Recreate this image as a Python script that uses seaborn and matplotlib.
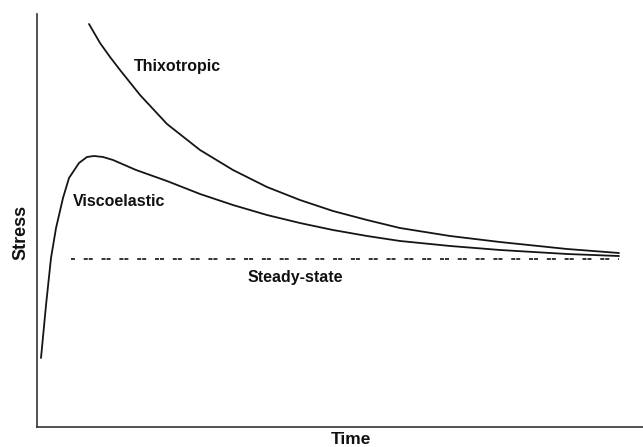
import matplotlib
matplotlib.use("Agg")
import matplotlib.pyplot as plt
import seaborn as sns

# values (time 0-100, stress 0-100)
thixo_time = [8.58, 10.40, 12.05, 13.70, 17.00, 21.45, 26.90, 32.34, 37.95, 43.40,
              48.84, 54.46, 59.90, 68.15, 76.40, 87.46, 96.04]
thixo_stress = [97.58, 92.98, 89.59, 86.44, 80.39, 73.37, 67.07, 62.23, 58.11, 54.96,
                52.30, 50.12, 48.18, 46.25, 44.79, 43.10, 42.13]

visco_time = [0.66, 1.49, 2.31, 3.14, 4.29, 5.28, 6.93, 8.25, 9.41, 10.89, 12.54, 16.34,
              21.45, 26.90, 32.34, 37.95, 43.40, 48.84, 54.46, 59.90, 68.15, 76.40, 87.46, 96.04]
visco_stress = [16.71, 29.54, 40.92, 48.18, 55.45, 60.29, 63.92, 65.38, 65.62, 65.38, 64.65, 62.23,
                59.56, 56.42, 53.75, 51.33, 49.39, 47.70, 46.25, 45.04, 43.83, 42.86, 41.89, 41.40]

steady_time = [5.6, 96.0]
steady_stress = [40.7, 40.7]

labels = ["Thixotropic", "Viscoelastic", "Steady-state"]
label_pos = [(23.1, 87.4), (13.5, 54.5), (42.7, 36.1)]

sns.set_style("white")
plt.rcParams["font.family"] = ["Liberation Sans", "DejaVu Sans"]

fig = plt.figure(figsize=(6.43, 4.47), dpi=100)
ax = fig.add_axes([37 / 643, 20 / 447, 606 / 643, 413 / 447])

line_col = "#151515"
sns.lineplot(x=thixo_time, y=thixo_stress, ax=ax, color=line_col, lw=1.3)
sns.lineplot(x=visco_time, y=visco_stress, ax=ax, color=line_col, lw=1.3)
# dashes in pairs: "-- -- --"
sns.lineplot(x=steady_time, y=steady_stress, ax=ax, color="#333333", lw=1.4,
             linestyle=(2.6, (2.06, 0.51, 2.06, 4.53)))

for txt, (tx, ty) in zip(labels, label_pos):
    ax.text(tx, ty, txt, ha="center", va="center", fontsize=11.5,
            fontweight="bold", color="#111111")

ax.set_xlim(0, 100)
ax.set_ylim(0, 100)
ax.set_xticks([])
ax.set_yticks([])
for side in ["top", "right"]:
    ax.spines[side].set_visible(False)
for side in ["left", "bottom"]:
    ax.spines[side].set_color("#333333")
    ax.spines[side].set_linewidth(1.2)

ax.set_ylabel("Stress", fontsize=13, fontweight="bold", color="#111111")
ax.yaxis.set_label_coords(-0.012, 0.47)
fig.text(351 / 643, 0.5 / 447, "Time", ha="center", va="bottom",
         fontsize=12.5, fontweight="bold", color="#111111")

fig.savefig("out.png", dpi=100)
